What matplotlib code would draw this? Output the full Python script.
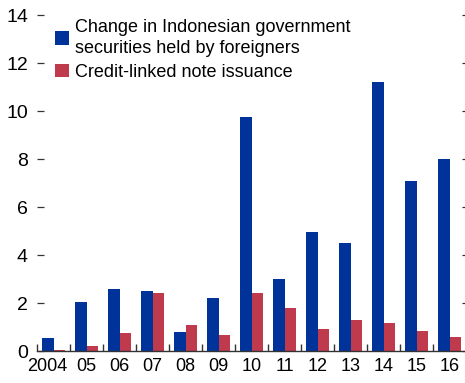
import numpy as np
import matplotlib
matplotlib.use("Agg")
import matplotlib.pyplot as plt
from matplotlib.transforms import ScaledTranslation

years = ["2004", "05", "06", "07", "08", "09", "10", "11", "12", "13", "14", "15", "16"]
foreign_holdings = [0.55, 2.05, 2.6, 2.5, 0.8, 2.2, 9.75, 3.0, 4.95, 4.5, 11.2, 7.1, 8.0]
cln_issuance = [0.03, 0.2, 0.75, 2.4, 1.1, 0.65, 2.4, 1.8, 0.92, 1.3, 1.15, 0.85, 0.6]
yticks = [0, 2, 4, 6, 8, 10, 12, 14]

BLUE = "#00339A"
RED = "#BE3A4C"

plt.rcParams["font.family"] = ["Liberation Sans", "DejaVu Sans"]

fig = plt.figure(figsize=(4.65, 3.83), dpi=100)
ax = fig.add_axes([37 / 465, 32 / 383, 429 / 465, 336 / 383])

x = np.arange(len(years))
w = 0.335
ax.bar(x - w / 2, foreign_holdings, width=w, color=BLUE,
       label="Change in Indonesian government\nsecurities held by foreigners")
ax.bar(x + w / 2, cln_issuance, width=w, color=RED, label="Credit-linked note issuance")

ax.set_xlim(-0.5, len(years) - 0.5)
ax.set_ylim(0, 14)
ax.set_yticks(yticks)
ax.set_xticks(x)
ax.set_xticklabels(years)
ax.set_xticks(np.arange(len(years) + 1) - 0.5, minor=True)

for s in ("top", "left", "right"):
    ax.spines[s].set_visible(False)
ax.spines["bottom"].set_color("#333333")
ax.spines["bottom"].set_linewidth(1.0)

ax.tick_params(axis="y", which="major", direction="in", length=5, width=0.9, color="#333333",
               labelsize=14, pad=6.5, left=True, right=False)
# short unlabeled ticks on the right edge
ax2 = ax.twinx()
ax2.set_ylim(ax.get_ylim())
ax2.set_yticks(yticks)
ax2.tick_params(axis="y", direction="in", length=3, width=0.9, color="#333333", labelright=False)
for s in ax2.spines.values():
    s.set_visible(False)

ax.tick_params(axis="x", which="major", length=0, labelsize=13, pad=5)
ax.tick_params(axis="x", which="minor", direction="in", length=5, width=1.0, color="#333333")

# "2004" sits a little left of its slot in the original
first = ax.get_xticklabels()[0]
first.set_transform(first.get_transform() + ScaledTranslation(-6 / 100, 0, fig.dpi_scale_trans))

leg = ax.legend(loc="upper left", bbox_to_anchor=(0.026, 1.011), frameon=False, fontsize=13,
                handlelength=0.78, handleheight=0.78, handletextpad=0.3, labelspacing=0.38,
                borderaxespad=0)
for t in leg.get_texts():
    t.set_linespacing(1.32)

fig.savefig("out.png", dpi=100)
